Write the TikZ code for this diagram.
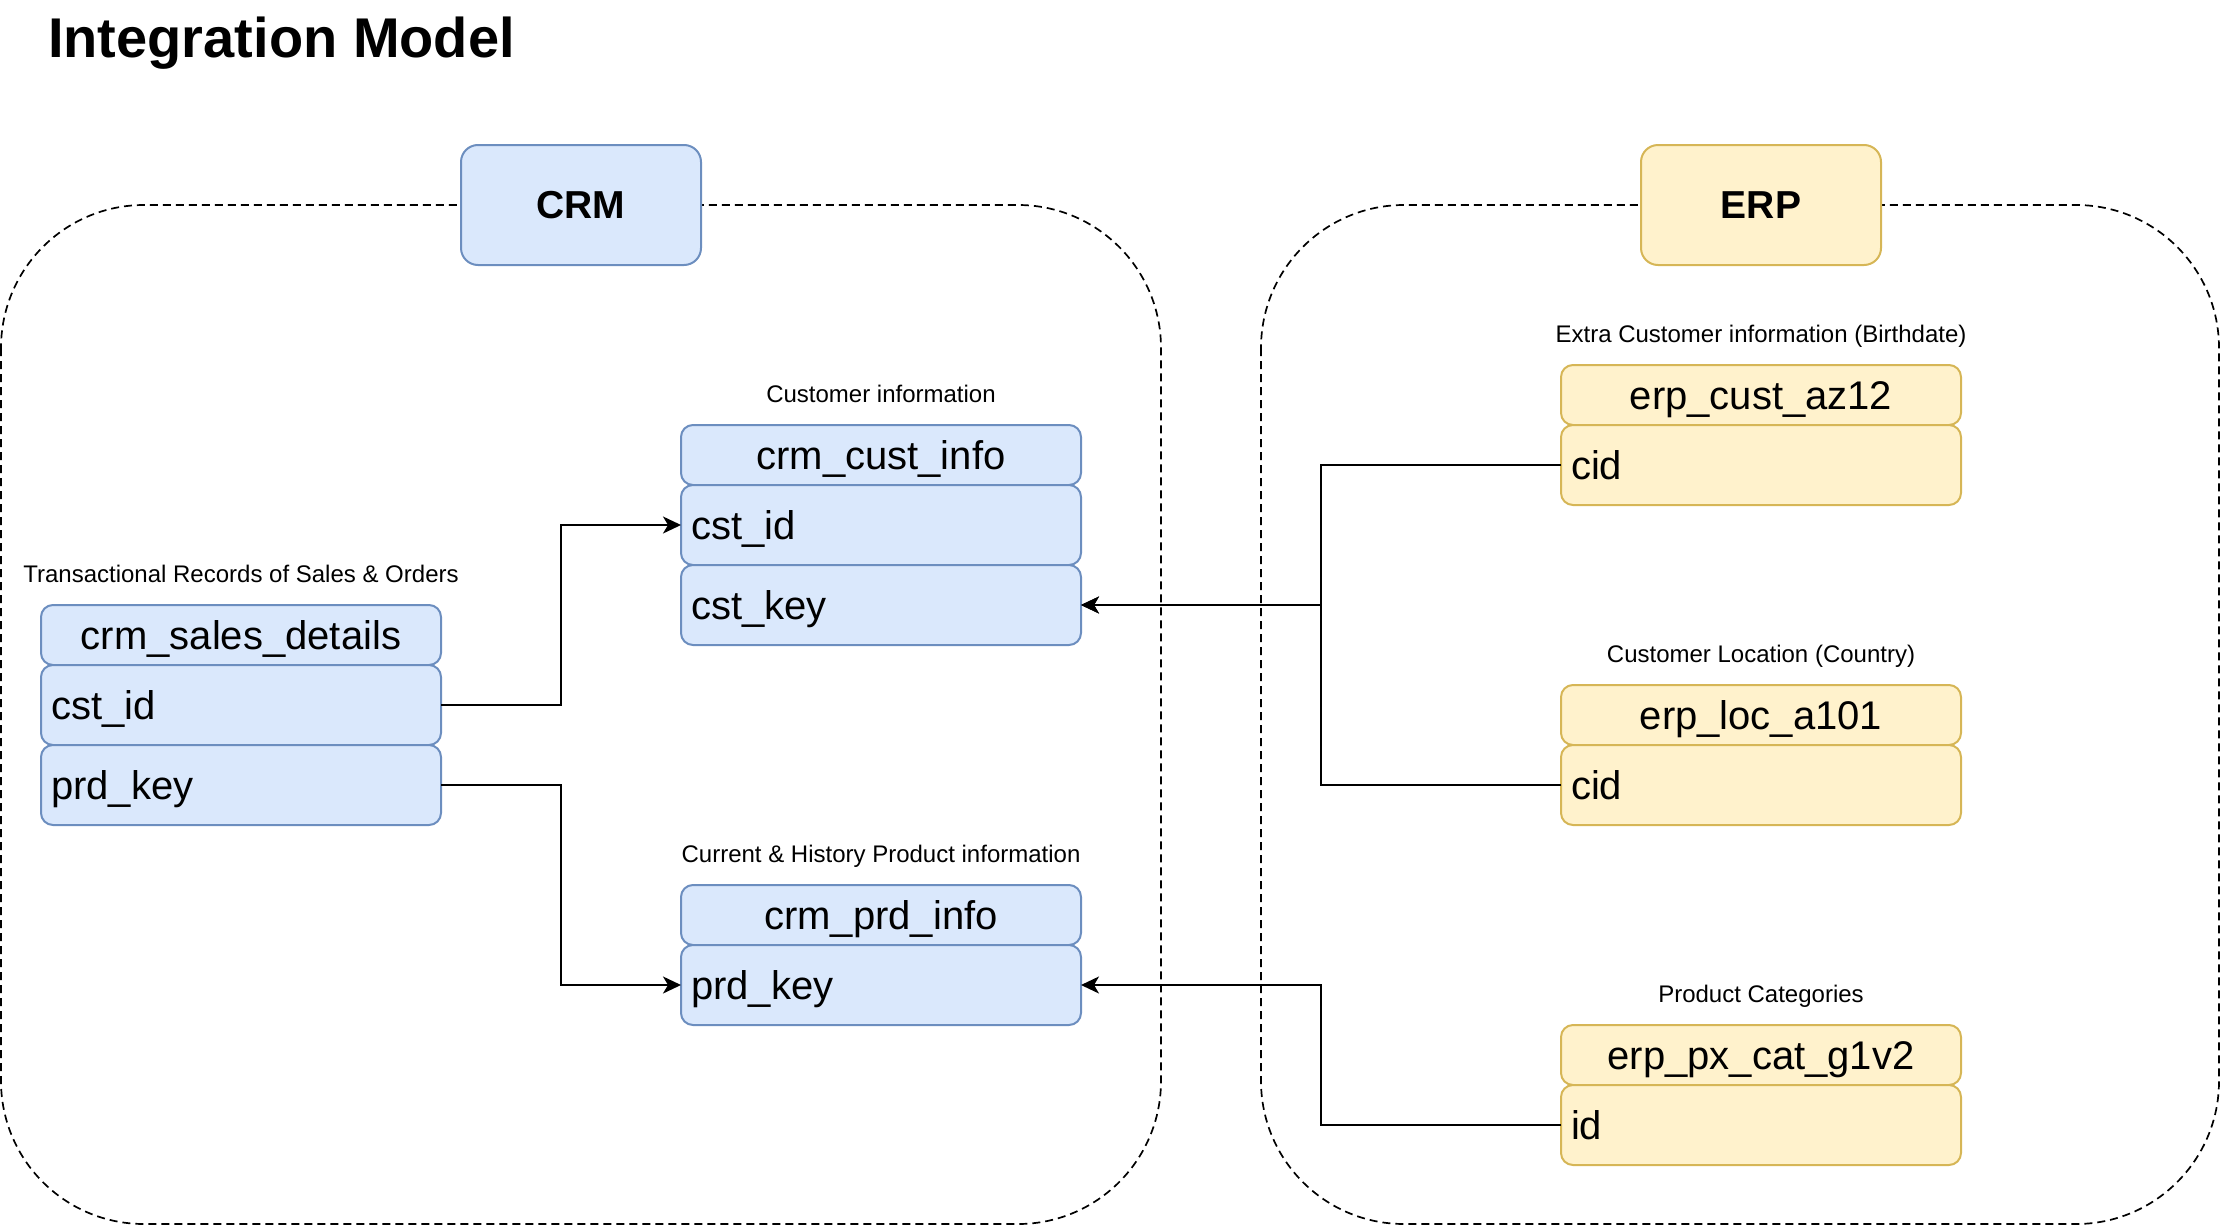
\documentclass[tikz,border=0pt]{standalone}
\usepackage{fontspec}
\setmainfont{Liberation Sans}
\usepackage{tikz}
\usetikzlibrary{positioning,arrows.meta}
\definecolor{crmfill}{HTML}{DAE8FC}
\definecolor{crmline}{HTML}{6C8EBF}
\definecolor{erpfill}{HTML}{FFF2CC}
\definecolor{erpline}{HTML}{D6B656}

\begin{document}
\begin{tikzpicture}[x=1pt,y=-1pt,
	tbl/.style={draw, line width=2pt, rounded corners=12pt, minimum width=400pt, inner sep=0pt, outer sep=0pt},
	crm/.style={fill=crmfill, draw=crmline},
	erp/.style={fill=erpfill, draw=erpline},
	hdr/.style={tbl, minimum height=60pt, font=\fontsize{40}{41}\selectfont, text height=28pt, text depth=0pt},
	fld/.style={tbl, minimum height=80pt, text width=380pt, align=left, font=\fontsize{40}{41}\selectfont, text height=28pt, text depth=0pt},
	lbl/.style={font=\fontsize{24}{25}\selectfont, anchor=base, inner sep=0pt},
	group/.style={dashed, dash pattern=on 8pt off 5pt, line width=1.7pt, rounded corners=143pt},
	src/.style={draw, line width=2pt, rounded corners=17pt, minimum width=240pt, minimum height=120pt, font=\bfseries\fontsize{39}{40}\selectfont},
	link/.style={line width=2pt, -{Stealth[length=18pt,width=17pt,inset=5pt]}}
	]
	\useasboundingbox (0,0) rectangle (2222,1226);
	
	\node[anchor=base west, inner sep=0pt, font=\bfseries\fontsize{56}{60}\selectfont] (title) at (48,57) {Integration Model};
	
	% source groups
	\draw[group] (1,205) rectangle (1161,1224);
	\draw[group] (1261,205) rectangle (2219,1224);
	\node[src, crm] (crmsrc) at (581,205) {CRM};
	\node[src, erp] (erpsrc) at (1761,205) {ERP};
	
	% crm tables
	\node[hdr, crm] (sales) at (241,635) {crm\_sales\_details};
	\node[fld, crm, below=0pt of sales] (sales-cst) {cst\_id};
	\node[fld, crm, below=0pt of sales-cst] (sales-prd) {prd\_key};
	\node[lbl] at ([yshift=23pt]sales.north) {Transactional Records of Sales \& Orders};
	
	\node[hdr, crm] (cust) at (881,455) {crm\_cust\_info};
	\node[fld, crm, below=0pt of cust] (cust-id) {cst\_id};
	\node[fld, crm, below=0pt of cust-id] (cust-key) {cst\_key};
	\node[lbl] at ([yshift=23pt]cust.north) {Customer information};
	
	\node[hdr, crm] (prd) at (881,915) {crm\_prd\_info};
	\node[fld, crm, below=0pt of prd] (prd-key) {prd\_key};
	\node[lbl] at ([yshift=23pt]prd.north) {Current \& History Product information};
	
	% erp tables
	\foreach \n/\y/\t/\f/\l in
	{az/395/{erp\_cust\_az12}/cid/{Extra Customer information (Birthdate)},
		loc/715/{erp\_loc\_a101}/cid/{Customer Location (Country)},
		cat/1055/{erp\_px\_cat\_g1v2}/id/{Product Categories}}{
		\node[hdr, erp] (\n) at (1761,\y) {\t};
		\node[fld, erp, below=0pt of \n] (\n-fld) {\f};
		\node[lbl] at ([yshift=23pt]\n.north) {\l};
	}
	
	% links
	\coordinate (busl) at (561,0);
	\coordinate (busr) at (1321,0);
	\draw[link] (sales-cst.east) -- (sales-cst.east -| busl) |- (cust-id.west);
	\draw[link] (sales-prd.east) -- (sales-prd.east -| busl) |- (prd-key.west);
	\foreach \x/\y in {az/cust-key, loc/cust-key, cat/prd-key}{
		\draw[link] (\x-fld.west) -- (\x-fld.west -| busr) |- (\y.east);
	}
\end{tikzpicture}
\end{document}
